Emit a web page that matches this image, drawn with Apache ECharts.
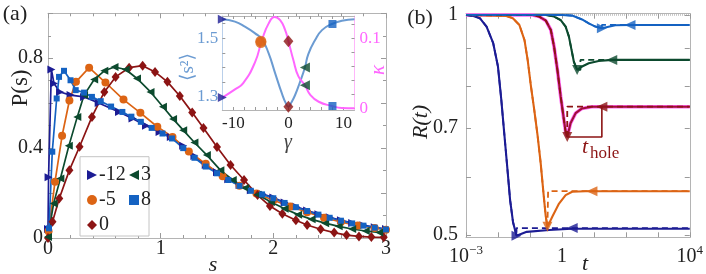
<!DOCTYPE html>
<html><head><meta charset="utf-8">
<script src="https://cdn.jsdelivr.net/npm/echarts@6/dist/echarts.min.js"></script>
<style>html,body{margin:0;padding:0;background:#fff}#c{width:706px;height:274px}</style>
</head><body><div id="c"></div>
<script>
// ---------- Panel (a): level spacing distributions P(s) ----------
const sM12 = [0.0, 0.005, 0.03, 0.053, 0.107, 0.2, 0.32, 0.45, 0.63, 0.75, 0.87, 0.99, 1.09, 1.2, 1.3, 1.4, 1.5, 1.6, 1.7, 1.8, 1.9, 2.0, 2.1, 2.2, 2.3, 2.4, 2.5, 2.6, 2.7, 2.8, 2.9, 3.0];
const pM12 = [0.04, 0.27, 0.75, 0.688, 0.65, 0.636, 0.628, 0.601, 0.561, 0.532, 0.5, 0.472, 0.45, 0.41, 0.365, 0.325, 0.293, 0.262, 0.236, 0.213, 0.197, 0.18, 0.158, 0.14, 0.122, 0.106, 0.092, 0.079, 0.067, 0.057, 0.048, 0.04];
const sM5 = [0.005, 0.062, 0.125, 0.19, 0.248, 0.365, 0.51, 0.67, 0.82, 0.97, 1.105, 1.25, 1.4, 1.55, 1.7, 1.85, 2.0, 2.15, 2.3, 2.45, 2.6, 2.75, 2.9, 3.0];
const pM5 = [0.03, 0.25, 0.455, 0.612, 0.695, 0.758, 0.692, 0.616, 0.557, 0.495, 0.45, 0.385, 0.33, 0.275, 0.232, 0.198, 0.168, 0.14, 0.115, 0.09, 0.071, 0.056, 0.044, 0.037];
const s0 = [0.0, 0.04, 0.1, 0.19, 0.28, 0.39, 0.5, 0.6, 0.72, 0.84, 0.95, 1.06, 1.17, 1.28, 1.38, 1.5, 1.62, 1.74, 1.86, 1.97, 2.08, 2.2, 2.3, 2.42, 2.54, 2.65, 2.76, 2.87, 2.98];
const p0 = [0.0, 0.072, 0.176, 0.302, 0.406, 0.539, 0.65, 0.717, 0.758, 0.767, 0.739, 0.695, 0.632, 0.558, 0.49, 0.405, 0.325, 0.258, 0.191, 0.142, 0.108, 0.079, 0.058, 0.039, 0.024, 0.013, 0.007, 0.004, 0.003];
const s3 = [0.0, 0.05, 0.11, 0.185, 0.26, 0.32, 0.41, 0.5, 0.59, 0.69, 0.79, 0.91, 1.02, 1.11, 1.2, 1.3, 1.41, 1.53, 1.64, 1.75, 1.86, 1.98, 2.1, 2.22, 2.34, 2.46, 2.58, 2.7, 2.82, 2.94];
const p3 = [0.005, 0.154, 0.265, 0.41, 0.539, 0.636, 0.705, 0.744, 0.761, 0.75, 0.71, 0.65, 0.584, 0.53, 0.48, 0.425, 0.369, 0.302, 0.258, 0.222, 0.192, 0.16, 0.13, 0.104, 0.083, 0.066, 0.052, 0.04, 0.031, 0.025];
const s8 = [0.009, 0.038, 0.077, 0.098, 0.142, 0.2, 0.246, 0.32, 0.39, 0.468, 0.56, 0.66, 0.74, 0.824, 0.92, 1.016, 1.1, 1.2, 1.3, 1.4, 1.5, 1.6, 1.7, 1.8, 1.9, 2.0, 2.1, 2.2, 2.3, 2.4, 2.5, 2.6, 2.7, 2.8, 2.9, 3.0];
const p8 = [0.043, 0.384, 0.621, 0.717, 0.744, 0.702, 0.658, 0.647, 0.628, 0.609, 0.585, 0.561, 0.54, 0.517, 0.49, 0.465, 0.443, 0.40, 0.357, 0.318, 0.288, 0.258, 0.232, 0.21, 0.194, 0.177, 0.156, 0.137, 0.12, 0.104, 0.09, 0.077, 0.065, 0.055, 0.046, 0.038];
const aXTicks = [0, 1, 2, 3];
const aYLabels = [0, 0.4, 0.8];

// ---------- Inset: <s^2> and kappa vs gamma ----------
const gS2 = [-12, -9.7, -7.9, -6.05, -4.8, -3.6, -2.4, -1.2, -0.5, 0, 0.5, 1.2, 2.1, 3.0, 3.6, 4.85, 6.1, 7.9, 9.7, 12];
const s2Vals = [1.565, 1.557, 1.54, 1.517, 1.497, 1.449, 1.38, 1.312, 1.279, 1.266, 1.279, 1.305, 1.35, 1.40, 1.445, 1.494, 1.528, 1.549, 1.56, 1.565];
const gK = [-12, -9.7, -8.2, -6.05, -4.8, -3.6, -2.5, -1.5, -0.6, 0, 0.9, 1.8, 3.0, 4.0, 5.5, 7.9, 9.7, 12];
const kVals = [0.0154, 0.027, 0.036, 0.066, 0.0976, 0.121, 0.1305, 0.126, 0.112, 0.096, 0.069, 0.046, 0.033, 0.019, 0.0094, 0.0033, 0.0004, 0.0];
const gMarks = [-12, -5, 0, 3, 8];
const s2Marks = [1.565, 1.49, 1.266, 1.40, 1.549];
const kMarks = [0.0154, 0.094, 0.096, 0.033, 0.0033];
const insetXLabels = [-10, 0, 10];

// ---------- Panel (b): R(t) ----------
const tNavy = [0.001, 0.0017, 0.0027, 0.0044, 0.0071, 0.01, 0.01274, 0.01549, 0.01928, 0.02399, 0.02951, 0.038, 0.0794, 0.398, 2.0, 10000];
const rNavy = [1, 0.997, 0.99, 0.964, 0.915, 0.85, 0.765, 0.694, 0.623, 0.558, 0.521, 0.499, 0.505, 0.508, 0.51, 0.51];
const tOrange = [0.001, 0.0182, 0.0292, 0.0468, 0.0676, 0.0849, 0.108, 0.1368, 0.173, 0.217, 0.269, 0.31, 0.353, 0.505, 0.813, 1.31, 2.1, 5.46, 10000];
const rOrange = [1, 0.997, 0.99, 0.969, 0.924, 0.868, 0.798, 0.741, 0.685, 0.627, 0.567, 0.532, 0.513, 0.53, 0.552, 0.567, 0.573, 0.574, 0.574];
const tRed = [0.001, 0.1202, 0.195, 0.316, 0.45, 0.569, 0.724, 0.918, 1.16, 1.31, 1.47, 1.86, 2.69, 4.27, 8.7, 10000];
const rRed = [1, 1, 0.995, 0.982, 0.954, 0.905, 0.841, 0.773, 0.718, 0.692, 0.681, 0.711, 0.734, 0.745, 0.749, 0.749];
const tGreen = [0.001, 0.316, 0.569, 0.918, 1.31, 1.66, 2.0, 2.37, 3.0, 4.27, 6.92, 14.1, 36.3, 10000];
const rGreen = [1, 1, 0.995, 0.984, 0.964, 0.934, 0.896, 0.863, 0.841, 0.85, 0.859, 0.865, 0.868, 0.868];
const tBlue = [0.001, 1.02, 2.09, 4.27, 6.92, 11.2, 17.8, 46.8, 135, 10000];
const rBlue = [1, 1, 0.998, 0.986, 0.974, 0.964, 0.959, 0.968, 0.969, 0.969];
// min (t_hole start), step time of dashed approximant, plateau values
const minT = [0.038, 0.353, 1.47, 3.0, 17.8];
const minR = [0.499, 0.513, 0.681, 0.841, 0.959];
const stepT = [0.038, 0.37, 1.47, 3.8, 17.8];
const plateauR = [0.511, 0.574, 0.749, 0.868, 0.969];
const arrowT = [2.1, 8.7, 17.8, 36.3, 135];
const holeEndT = 17.8;
const bXTickExp = [-3, 0, 4];
const bYLabels = [0.5, 0.7, 1];
const bYTicks = [0.5, 0.6, 0.7, 0.8, 0.9, 1];

// ---------- styling ----------
const FONT = '"Liberation Serif","DejaVu Serif",serif';
const cNavy = '#1c1c94', cOrange = '#dc6414', cRed = '#8c1414', cGreen = '#0c4a2e', cBlue = '#1462c2';
const cCrim = '#a0103a', cHalo = '#ff66f2';
const cS2 = '#6b9bd2', cKappa = '#ff66ff';
const frame = '#b4b4b4', tickC = '#9a9a9a', txt = '#222';
const triR = 'path://M0,0L10,5L0,10Z', triL = 'path://M10,0L0,5L10,10Z', triD = 'path://M0,0L10,0L5,10Z';
const zip = (xs, ys) => xs.map((x, i) => [x, ys[i]]);

function frameAxis(extra) {
  return Object.assign({
    axisLine: { show: true, onZero: false, lineStyle: { color: frame, width: 1 } },
    axisTick: { show: true, inside: true, length: 5, lineStyle: { color: tickC } },
    splitLine: { show: false },
    axisLabel: { show: false },
  }, extra);
}
const lab = (size, margin, color) => ({ show: true, fontFamily: FONT, fontSize: size, color: color || txt, margin: margin });

function mainSeries(name, xs, ys, color, symbol, size) {
  return { type: 'line', name, xAxisIndex: 0, yAxisIndex: 0, data: zip(xs, ys), symbol, symbolSize: size,
    showAllSymbol: true, lineStyle: { color, width: 1.7 }, itemStyle: { color }, z: 2 };
}

const series = [
  mainSeries('-12', sM12, pM12, cNavy, triR, [8, 8]),
  mainSeries('-5', sM5, pM5, cOrange, 'circle', 8),
  mainSeries('0', s0, p0, cRed, 'diamond', [8, 10]),
  mainSeries('3', s3, p3, cGreen, triL, [8, 8]),
  mainSeries('8', s8, p8, cBlue, 'rect', 6),
  // inset
  { type: 'line', name: 's2', xAxisIndex: 2, yAxisIndex: 2, data: zip(gS2, s2Vals), smooth: 0.5, symbol: 'none',
    lineStyle: { color: cS2, width: 2 }, z: 5 },
  { type: 'line', name: 'kappa', xAxisIndex: 2, yAxisIndex: 3, data: zip(gK, kVals), smooth: 0.5, symbol: 'none',
    lineStyle: { color: cKappa, width: 2 }, z: 5 },
];
const markColors = [cNavy, cOrange, cRed, cGreen, cBlue];
const markSyms = [triR, 'circle', 'diamond', triL, 'rect'];
const markSizes = [[9, 9], 11, [10, 12], [10, 10], 8];
[['s2m', 2, s2Marks], ['km', 3, kMarks]].forEach(([nm, yi, vals]) => {
  series.push({ type: 'scatter', name: nm, xAxisIndex: 2, yAxisIndex: yi, z: 6,
    data: gMarks.map((g, i) => ({ value: [g, vals[i]], symbol: markSyms[i], symbolSize: markSizes[i], itemStyle: { color: markColors[i] } })) });
});

// panel b
series.push({ type: 'line', name: 'one', xAxisIndex: 4, yAxisIndex: 4, data: [[0.001, 1], [10000, 1]], symbol: 'none',
  lineStyle: { color: '#999', width: 1, type: 'dotted' }, z: 1 });
const bT = [tNavy, tOrange, tRed, tGreen, tBlue];
const bR = [rNavy, rOrange, rRed, rGreen, rBlue];
const bCol = [cNavy, cOrange, cCrim, cGreen, cBlue];
const bDash = [cNavy, cOrange, cRed, cGreen, cBlue];
const minSyms = [triR, triD, triD, triD, triR];
bT.forEach((ts, i) => {
  if (i === 2) series.push({ type: 'line', name: 'halo', xAxisIndex: 4, yAxisIndex: 4, data: zip(ts, bR[i]), symbol: 'none',
    lineStyle: { color: cHalo, width: 3.6 }, z: 2 });
  series.push({ type: 'line', name: 'sol' + i, xAxisIndex: 4, yAxisIndex: 4, data: zip(ts, bR[i]), symbol: 'none',
    lineStyle: { color: bCol[i], width: 2.1 }, z: 3 });
  // dashed approximant: same decay, then a step at t_min up to the plateau
  const k = ts.findIndex(t => t >= minT[i]);
  const dd = zip(ts.slice(0, k), bR[i].slice(0, k));
  dd.push([minT[i], minR[i]], [stepT[i], minR[i]], [stepT[i], plateauR[i]], [10000, plateauR[i]]);
  series.push({ type: 'line', name: 'dash' + i, xAxisIndex: 4, yAxisIndex: 4, data: dd, symbol: 'none',
    lineStyle: { color: bDash[i], width: 1.8, type: [6, 4] }, z: 4 });
  series.push({ type: 'scatter', name: 'arr' + i, xAxisIndex: 4, yAxisIndex: 4, z: 5,
    data: [{ value: [arrowT[i], plateauR[i]], symbol: triL, symbolSize: [11, 10] },
           { value: [minT[i], minR[i]], symbol: minSyms[i], symbolSize: [10, 10] }],
    itemStyle: { color: bDash[i] } });
});
// t_hole box
series.push({ type: 'line', name: 'box', xAxisIndex: 4, yAxisIndex: 4, z: 4, symbol: 'none',
  data: [[minT[2], minR[2]], [holeEndT, minR[2]], [holeEndT, plateauR[2]]], lineStyle: { color: cRed, width: 1.6 } });

const supFmt = v => {
  const e = Math.log10(v), r = Math.round(e);
  if (Math.abs(e - r) > 1e-6 || bXTickExp.indexOf(r) < 0) return '';
  if (r === 0) return '{n|1}';
  return '{n|10}{s|' + (r < 0 ? '\u2212' + (-r) : r) + '}';
};

const option = {
  animation: false,
  backgroundColor: '#fff',
  grid: [
    { left: 48, top: 13.3, width: 338, height: 224.7 },
    { left: 222.3, top: 16, width: 132.2, height: 94, show: true, backgroundColor: '#fff', borderWidth: 0, z: 3 },
    { left: 466, top: 13.7, width: 225.7, height: 223.6 },
  ],
  xAxis: [
    frameAxis({ type: 'value', gridIndex: 0, min: 0, max: 3, interval: 1, position: 'bottom',
      minorTick: { show: true, splitNumber: 5, length: 3, lineStyle: { color: tickC } }, minorSplitLine: { show: false },
      axisLabel: Object.assign(lab(20, 1), { formatter: v => aXTicks.indexOf(v) >= 0 ? String(v) : '' }) }),
    frameAxis({ type: 'value', gridIndex: 0, min: 0, max: 3, interval: 1, position: 'top',
      minorTick: { show: true, splitNumber: 5, length: 3, lineStyle: { color: tickC } } }),
    frameAxis({ type: 'value', gridIndex: 1, min: -12, max: 12, position: 'bottom', z: 4,
      axisTick: { show: true, inside: true, length: 3, customValues: [-10, -8, -6, -4, -2, 0, 2, 4, 6, 8, 10], lineStyle: { color: tickC } },
      axisLabel: Object.assign(lab(17, 5), { customValues: insetXLabels, formatter: v => String(v) }) }),
    frameAxis({ type: 'value', gridIndex: 1, min: -12, max: 12, position: 'top', z: 4,
      axisTick: { show: true, inside: true, length: 3, customValues: [-10, -8, -6, -4, -2, 0, 2, 4, 6, 8, 10], lineStyle: { color: tickC } } }),
    frameAxis({ type: 'log', logBase: 10, gridIndex: 2, min: 0.001, max: 10000, interval: 1, splitNumber: 7, position: 'bottom',
      axisLabel: Object.assign(lab(20, 7), { formatter: supFmt, showMinLabel: true, showMaxLabel: true,
        rich: { n: { fontFamily: FONT, fontSize: 20, lineHeight: 24, color: txt }, s: { fontFamily: FONT, fontSize: 13, lineHeight: 13, verticalAlign: 'top', color: txt } } }) }),
    frameAxis({ type: 'log', logBase: 10, gridIndex: 2, min: 0.001, max: 10000, interval: 1, splitNumber: 7, position: 'top' }),
  ],
  yAxis: [
    frameAxis({ type: 'value', gridIndex: 0, min: 0, max: 1, interval: 0.2, position: 'left',
      minorTick: { show: true, splitNumber: 2, length: 3, lineStyle: { color: tickC } },
      axisLabel: Object.assign(lab(20, 5), { formatter: v => aYLabels.some(l => Math.abs(l - v) < 1e-9) ? String(v) : '' }) }),
    frameAxis({ type: 'value', gridIndex: 0, min: 0, max: 1, interval: 0.2, position: 'right',
      minorTick: { show: true, splitNumber: 2, length: 3, lineStyle: { color: tickC } } }),
    frameAxis({ type: 'value', gridIndex: 1, min: 1.2545, max: 1.5764, position: 'left', z: 4,
      axisLine: { show: true, onZero: false, lineStyle: { color: '#b9cfea', width: 1 } },
      axisTick: { show: true, inside: true, length: 3, customValues: [1.3, 1.35, 1.4, 1.45, 1.5, 1.55], lineStyle: { color: tickC } },
      axisLabel: Object.assign(lab(17, 4, cS2), { customValues: [1.3, 1.5], formatter: v => v.toFixed(1) }) }),
    frameAxis({ type: 'value', gridIndex: 1, min: -0.0024, max: 0.1319, position: 'right', z: 4,
      axisLine: { show: true, onZero: false, lineStyle: { color: '#ffb6fb', width: 1 } },
      axisTick: { show: true, inside: true, length: 3, customValues: [0, 0.02, 0.04, 0.06, 0.08, 0.1, 0.12], lineStyle: { color: tickC } },
      axisLabel: Object.assign(lab(17, 5, cKappa), { customValues: [0, 0.1], formatter: v => String(v) }) }),
    frameAxis({ type: 'log', logBase: 10, gridIndex: 2, min: 0.4964, max: 1.004, position: 'left',
      axisTick: { show: true, inside: true, length: 5, customValues: bYTicks, lineStyle: { color: tickC } },
      axisLabel: Object.assign(lab(20, 8), { customValues: bYLabels, formatter: v => String(v) }) }),
    frameAxis({ type: 'log', logBase: 10, gridIndex: 2, min: 0.4964, max: 1.004, position: 'right',
      axisTick: { show: true, inside: true, length: 5, customValues: bYTicks, lineStyle: { color: tickC } } }),
  ],
  legend: [
    { data: [{ name: '-12', icon: triR }, { name: '-5', icon: 'circle' }, { name: '0', icon: 'diamond' }],
      orient: 'vertical', left: 82, top: 160, itemGap: 5, itemWidth: 10, itemHeight: 10, z: 10, selectedMode: false,
      textStyle: { fontFamily: FONT, fontSize: 20, color: txt, padding: [0, 0, 0, -3] } },
    { data: [{ name: '3', icon: triL }, { name: '8', icon: 'rect' }],
      orient: 'vertical', left: 124, top: 160, itemGap: 5, itemWidth: 10, itemHeight: 10, z: 10, selectedMode: false,
      textStyle: { fontFamily: FONT, fontSize: 20, color: txt, padding: [0, 0, 0, -3] } },
  ],
  graphic: [
    { type: 'rect', z: 8, shape: { x: 80, y: 156.7, width: 69, height: 79.3 }, style: { fill: '#fff', stroke: '#c4c4c4', lineWidth: 1 } },
    { type: 'text', z: 10, x: 15, y: 14, style: { text: '(a)', font: '22px ' + FONT, fill: txt, align: 'center', verticalAlign: 'middle' } },
    { type: 'text', z: 10, x: 420, y: 18, style: { text: '(b)', font: '22px ' + FONT, fill: txt, align: 'center', verticalAlign: 'middle' } },
    { type: 'text', z: 10, x: 21, y: 88, rotation: Math.PI / 2, style: { text: 'P(s)', font: '23px ' + FONT, fill: txt, align: 'center', verticalAlign: 'middle' } },
    { type: 'text', z: 10, x: 213, y: 265, style: { text: 's', font: 'italic 22px ' + FONT, fill: txt, align: 'center', verticalAlign: 'middle' } },
    { type: 'text', z: 10, x: 188, y: 67, rotation: Math.PI / 2, style: { text: '\u27E8s\u00B2\u27E9', font: '19px ' + FONT, fill: cS2, align: 'center', verticalAlign: 'middle' } },
    { type: 'text', z: 10, x: 378, y: 70, rotation: Math.PI / 2, style: { text: '\u03BA', font: 'italic 21px ' + FONT, fill: cKappa, align: 'center', verticalAlign: 'middle' } },
    { type: 'text', z: 10, x: 288, y: 143, style: { text: '\u03B3', font: 'italic 20px ' + FONT, fill: '#444', align: 'center', verticalAlign: 'middle' } },
    { type: 'text', z: 10, x: 585, y: 264, style: { text: 't', font: 'italic 22px ' + FONT, fill: txt, align: 'center', verticalAlign: 'middle' } },
    { type: 'text', z: 10, x: 421, y: 122, rotation: Math.PI / 2, style: { text: 'R(t)', font: 'italic 22px ' + FONT, fill: txt, align: 'center', verticalAlign: 'middle' } },
    { type: 'text', z: 10, x: 585, y: 147, style: { text: 't', font: 'italic 22px ' + FONT, fill: cRed, align: 'center', verticalAlign: 'middle' } },
    { type: 'text', z: 10, x: 590, y: 154, style: { text: 'hole', font: '17px ' + FONT, fill: cRed, align: 'left', verticalAlign: 'middle' } },
  ],
  series: series,
};
const chart = echarts.init(document.getElementById('c'), null, { renderer: 'canvas' });
chart.setOption(option);
</script>
</body></html>
